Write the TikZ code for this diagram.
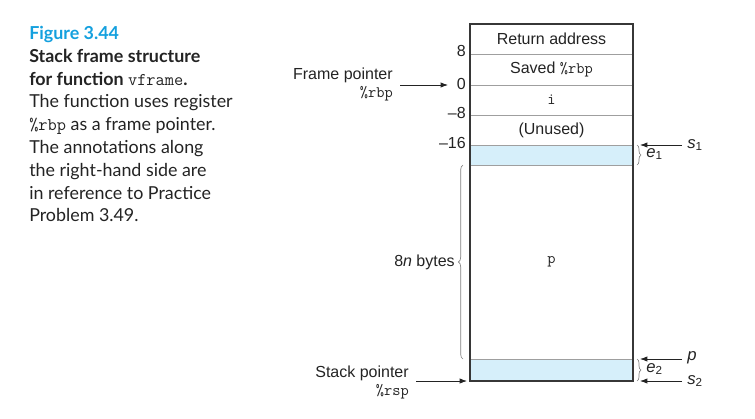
\documentclass[tikz,border=0pt]{standalone}
\usepackage{fontspec}
\setmainfont{Liberation Sans}
\newfontfamily\capfont{Lato}
\usetikzlibrary{arrows.meta,decorations.pathreplacing,calc}
\definecolor{figblue}{RGB}{20,160,222}
\definecolor{cellblue}{RGB}{214,239,250}
\definecolor{framegray}{RGB}{55,55,55}
\definecolor{inkgray}{RGB}{35,35,35}
\tikzset{%
        caption/.style = {anchor=north west, inner sep=0pt, align=left,
                text=inkgray, font=\capfont\fontsize{13.4}{17.1}\selectfont},
        slot/.style = {inner sep=0pt, text=inkgray, font=\fontsize{12}{14}\selectfont},
        offset/.style = {anchor=east, inner sep=0pt, text=inkgray, font=\fontsize{12}{14}\selectfont},
        ptrtext/.style = {inner sep=0pt, text=inkgray, align=right, font=\fontsize{12}{13.5}\selectfont},
        note/.style = {inner sep=0pt, anchor=west, text=inkgray, font=\fontsize{12.5}{14}\selectfont},
        rowline/.style = {draw=gray!75, line width=0.5pt},
        outline/.style = {draw=framegray, line width=1.3pt},
        pointer/.style = {draw=inkgray, line width=0.6pt, -{Latex[length=5.5pt,width=4pt]}},
        bracket/.style = {draw=gray, line width=0.5pt, decorate}
}

\begin{document}
\begin{tikzpicture}[x=0.75pt,y=-0.75pt]
            \useasboundingbox (0,0) rectangle (755,418);
            % caption text
            \node[caption] (cap) at (29,26) {{\bfseries\color{figblue}Figure 3.44}\\
                {\bfseries Stack frame structure}\\
                {\bfseries for function {\mdseries\ttfamily vframe}.}\\
                The function uses register\\
                {\ttfamily\%rbp} as a frame pointer.\\
                The annotations along\\
                the right-hand side are\\
                in reference to Practice\\
                Problem 3.49.};
            % the stack frame
            \fill[cellblue] (470,145) rectangle (633,165);
            \fill[cellblue] (470,359) rectangle (633,381);
            \foreach \y in {54,85,115,145,165,359}
                \draw[rowline] (470,\y) -- (633,\y);
            \draw[outline] (470,24) rectangle (633,381);
            \node[slot] (ret) at (551.5,39) {Return address};
            \node[slot] (saved) at (551.5,69.5) {Saved {\ttfamily\%rbp}};
            \node[slot] (ivar) at (551.5,100) {\ttfamily i};
            \node[slot] (unused) at (551.5,130) {(Unused)};
            \node[slot] (parr) at (551.5,262) {\ttfamily p};
            % offsets from the frame pointer
            \node[offset] (off8) at (466,51) {8};
            \node[offset] (off0) at (466,84) {0};
            \node[offset] (offm8) at (466,113) {--8};
            \node[offset] (offm16) at (466,143) {--16};
            % pointers on the left
            \node[ptrtext, anchor=east] (fp) at (393,84) {Frame pointer\\{\ttfamily\%rbp}};
            \coordinate (fpa) at (400,85);
            \coordinate (fpb) at (448,85);
            \draw[pointer] (fpa) -- (fpb);
            \node[ptrtext, anchor=east] (sp) at (409,382) {Stack pointer\\{\ttfamily\%rsp}};
            \coordinate (spa) at (416,381);
            \coordinate (spb) at (467,381);
            \draw[pointer] (spa) -- (spb);
            \coordinate (bt) at (463,165);
            \coordinate (bb) at (463,359);
            \draw[bracket, decoration={brace, amplitude=3.5pt}] (bb) -- (bt);
            \node[offset] (bytes) at (455,262) {8\textit{n} bytes};
            % annotations on the right
            \coordinate (ea) at (637,145);
            \coordinate (eb) at (637,165);
            \draw[bracket, decoration={brace, amplitude=3pt}] (ea) -- (eb);
            \node[note] (e1) at (646,154) {\textit{e}\textsubscript{1}};
            \node[note] (s1) at (687,145) {\textit{s}\textsubscript{1}};
            \coordinate (s1a) at (682,145);
            \coordinate (s1b) at (640,145);
            \draw[pointer] (s1a) -- (s1b);
            \coordinate (fa) at (637,359);
            \coordinate (fb) at (637,381);
            \draw[bracket, decoration={brace, amplitude=3pt}] (fa) -- (fb);
            \node[note] (e2) at (646,369) {\textit{e}\textsubscript{2}};
            \node[note] (pm) at (687,358) {\textit{p}};
            \node[note] (s2) at (687,381) {\textit{s}\textsubscript{2}};
            \coordinate (pa) at (682,359);
            \coordinate (pb) at (640,359);
            \draw[pointer] (pa) -- (pb);
            \coordinate (s2a) at (682,381);
            \coordinate (s2b) at (640,381);
            \draw[pointer] (s2a) -- (s2b);
\end{tikzpicture}
\end{document}
